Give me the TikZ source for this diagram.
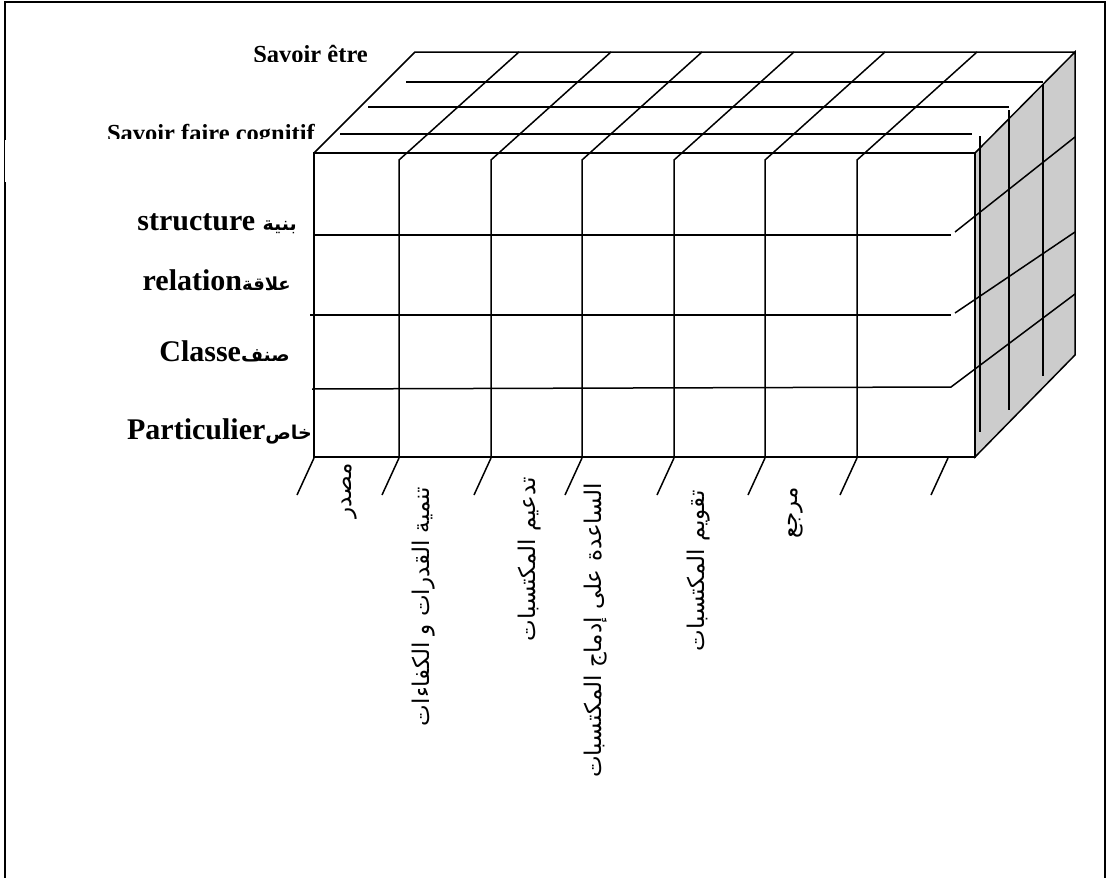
\documentclass[tikz,border=0pt]{standalone}
\usepackage{fontspec}
\setmainfont{Liberation Serif}
\newfontfamily\arabicfont[Script=Arabic]{DejaVu Sans}
\TeXXeTstate=1
\definecolor{sideface}{HTML}{CCCCCC}
\begin{document}
\begin{tikzpicture}[x=1pt,y=-1pt,
  grid/.style={line width=1.5pt, line join=miter, line cap=butt},
  frame/.style={line width=1.9pt},
  lat/.style={font=\fontsize{30}{32}\selectfont\bfseries, inner sep=0pt, anchor=base east},
  toplab/.style={font=\fontsize{24.5}{27}\selectfont\bfseries, inner sep=0pt, anchor=base east},
  vlab/.style={font=\arabicfont\fontsize{23}{25}\selectfont, rotate=90, anchor=east, inner sep=0pt},
]
\useasboundingbox (0,0) rectangle (1111,878);
% frame
\draw[frame] (5,890) -- (5,182);
\draw[line width=0.8pt] (4.5,182) -- (4.5,140);
\draw[frame] (5,140) -- (5,2) -- (1105,2) -- (1105,890);

% box corners
\coordinate (FTL) at (314,153);
\coordinate (FTR) at (975,153);
\coordinate (FBL) at (314,457);
\coordinate (FBR) at (975,457);
\coordinate (BTL) at (415,52);
\coordinate (BTR) at (1075,52);
\coordinate (BBR) at (1075,355);

% right face
\draw[grid, fill=sideface] (FTR) -- (BTR) -- (BBR) -- (FBR) -- cycle;
% top face outline
\draw[grid] (FTL) -- (BTL) -- (BTR);
% front face
\draw[grid, fill=white] (FTL) rectangle (FBR);

% top face depth lines
\draw[grid] (406,82) -- (1043,82);
\draw[grid] (368,107) -- (1009,107);
\draw[grid] (340,134) -- (972,134);

% right face verticals
\draw[grid] (980,136) -- (980,432);
\draw[grid] (1009,110) -- (1009,410);
\draw[grid] (1043,84) -- (1043,376);

% front horizontal lines and right face diagonals
\draw[grid] (314,235) -- (951,235);
\draw[grid] (955,232) -- (1075,137);
\draw[grid] (310,315) -- (951,315);
\draw[grid] (955,313) -- (1075,232);
\draw[grid] (312,389) -- (951,387) -- (1075,294);

% front verticals with top diagonals
\foreach \xv in {399,491,582,674,765,857}{
  \draw[grid] (\xv,457) -- (\xv,160) -- (\xv+120,52);
}

% bottom ticks
\foreach \xt in {314,399,491,582,674,765,857,948}{
  \draw[grid] (\xt,458) -- (\xt-17,495);
}

% top labels
\begin{scope}
  \clip (0,0) rectangle (400,61);
  \node[toplab] (sEtre) at (368,62) {Savoir être};
\end{scope}
\begin{scope}
  \clip (0,70) rectangle (400,138);
  \node[toplab] (sFaire) at (315,141) {Savoir faire cognitif};
\end{scope}

% left labels
\node[lat] (lStruct) at (297,230) {structure {\arabicfont\fontsize{19}{20}\selectfont\bfseries\beginR بنية\endR}};
\node[lat] (lRel) at (291,290) {relation{\arabicfont\fontsize{18}{20}\selectfont\bfseries\beginR علاقة\endR}};
\node[lat] (lClasse) at (290,361) {Classe{\arabicfont\fontsize{19}{20}\selectfont\beginR صنف\endR}};
\node[lat] (lPart) at (312,439) {Particulier{\arabicfont\fontsize{19}{20}\selectfont\beginR خاص\endR}};

% vertical labels
\node[vlab] (v1) at (350,463) {\beginR مصدر\endR};
\node[vlab] (v2) at (424,487) {\beginR تنمية القدرات و الكفاءات\endR};
\node[vlab] (v3) at (530,477) {\beginR تدعيم المكتسبات\endR};
\node[vlab] (v4) at (596,483) {\beginR الساعدة على إدماج المكتسبات\endR};
\node[vlab] (v5) at (699,490) {\beginR تقويم المكتسبات\endR};
\node[vlab] (v6) at (796,487) {\beginR مرجع\endR};
\end{tikzpicture}
\end{document}
